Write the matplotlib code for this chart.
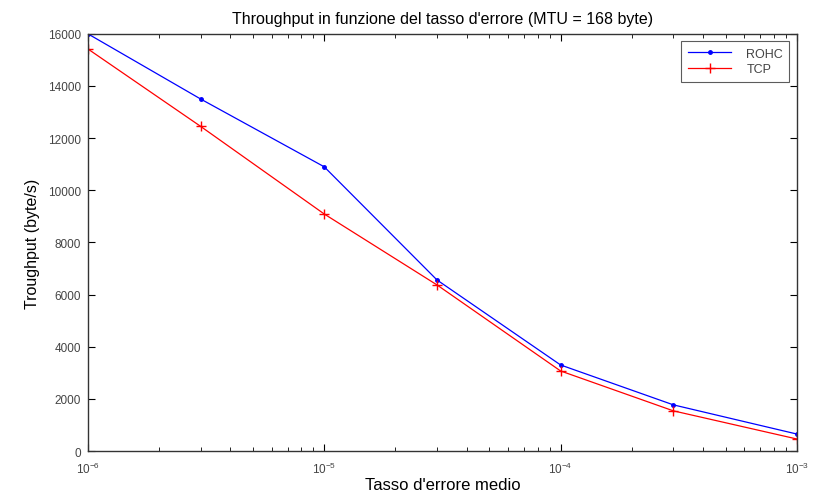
import matplotlib
matplotlib.use("Agg")
import matplotlib.pyplot as plt

plt.rcParams['font.family'] = ['Liberation Sans', 'DejaVu Sans']

# error rate (x) and throughput in byte/s
error_rate = [1e-6, 3e-6, 1e-5, 3e-5, 1e-4, 3e-4, 1e-3]
rohc = [16000, 13500, 10900, 6560, 3300, 1770, 650]
tcp = [15420, 12450, 9090, 6370, 3070, 1540, 460]

fig = plt.figure(figsize=(8.14, 5.02), dpi=100)
ax = fig.add_axes([0.108, 0.0996, 0.871, 0.831])

ax.plot(error_rate, rohc, '.-', color='blue', lw=0.9, ms=5, label='ROHC')
ax.plot(error_rate, tcp, '+-', color='red', lw=0.9, ms=7, mew=1, label='TCP')

ax.set_xscale('log')
ax.set_xlim(1e-6, 1e-3)
ax.set_ylim(0, 16000)
ax.set_yticks(range(0, 16001, 2000))

ax.tick_params(which='both', direction='in', top=True, right=True,
               labelsize=8.5, labelcolor='#444444')
ax.tick_params(which='major', length=5)
ax.tick_params(which='minor', length=3)
ax.tick_params(axis='x', which='major', pad=7)
ax.tick_params(axis='y', which='major', pad=5)
for s in ax.spines.values():
    s.set_linewidth(1.0)
    s.set_color('#333333')

ax.set_title("Throughput in funzione del tasso d'errore (MTU = 168 byte)", fontsize=11.5, pad=8)
ax.set_xlabel("Tasso d'errore medio", fontsize=12, labelpad=1)
ax.set_ylabel("Troughput (byte/s)", fontsize=11.5, labelpad=6)

leg = ax.legend(loc='upper right', fontsize=9, fancybox=False, edgecolor='#333333',
                handlelength=3.5, borderpad=0.5, labelspacing=0.3,
                borderaxespad=0.6, handletextpad=1.2)
leg.get_frame().set_linewidth(0.8)
for t in leg.get_texts():
    t.set_color('#444444')

fig.savefig("out.png", dpi=100)
